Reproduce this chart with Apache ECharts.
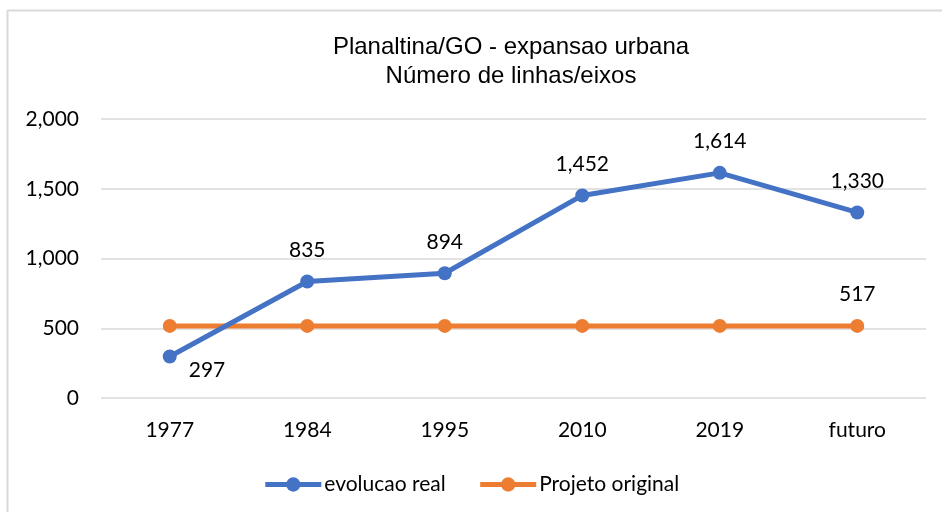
<!DOCTYPE html>
<html>
<head>
<meta charset="utf-8">
<script src="https://cdn.jsdelivr.net/npm/echarts@6/dist/echarts.min.js"></script>
<style>
  html, body { margin: 0; padding: 0; background: #fff; }
  #main { width: 942px; height: 512px; }
</style>
</head>
<body>
<div id="main"></div>
<script>
  const categories = ['1977', '1984', '1995', '2010', '2019', 'futuro']
  const evolucaoReal = [297, 835, 894, 1452, 1614, 1330]
  const projetoOriginal = [517, 517, 517, 517, 517, 517]
  const yTicks = [0, 500, 1000, 1500, 2000]

  const labelFont = 'Lato, "Open Sans", sans-serif'
  const fmt = (v) => v.toLocaleString('en-US')

  const chart = echarts.init(document.getElementById('main'))

  const options = {
    animation: false,
    backgroundColor: '#fff',
    title: {
      text: 'Planaltina/GO - expansao urbana\nNúmero de linhas/eixos',
      left: 506,
      top: 28,
      textAlign: 'center',
      textStyle: {
        fontFamily: '"Liberation Sans", Arial, sans-serif',
        fontSize: 24,
        fontWeight: 'normal',
        color: '#000',
        lineHeight: 29
      }
    },
    graphic: [
      { type: 'line', shape: { x1: 7.5, y1: 10.5, x2: 7.5, y2: 512 }, style: { stroke: '#d9d9d9', lineWidth: 2 } },
      { type: 'line', shape: { x1: 7, y1: 10.5, x2: 942, y2: 10.5 }, style: { stroke: '#d9d9d9', lineWidth: 2 } }
    ],
    color: ['#4472C4', '#ED7D31'],
    legend: {
      bottom: 12,
      left: 'center',
      itemWidth: 56,
      itemHeight: 18,
      itemGap: 32,
      lineStyle: { width: 5 },
      textStyle: { fontFamily: labelFont, fontSize: 21, color: '#000', padding: [0, 0, 0, -2] },
      data: ['evolucao real', 'Projeto original']
    },
    grid: {
      left: 101,
      right: 16,
      top: 119,
      bottom: 114
    },
    xAxis: {
      type: 'category',
      data: categories,
      boundaryGap: true,
      axisLine: { show: false },
      axisTick: { show: false },
      axisLabel: { fontFamily: labelFont, fontSize: 21, color: '#000', margin: 22 }
    },
    yAxis: {
      type: 'value',
      min: yTicks[0],
      max: yTicks[yTicks.length - 1],
      interval: 500,
      axisLine: { show: false },
      axisTick: { show: false },
      splitLine: { lineStyle: { color: '#d9d9d9', width: 1.5 } },
      axisLabel: {
        fontFamily: labelFont,
        fontSize: 21,
        color: '#000',
        margin: 22,
        formatter: (v) => fmt(v)
      }
    },
    series: [
      {
        name: 'evolucao real',
        type: 'line',
        data: evolucaoReal,
        symbol: 'circle',
        symbolSize: 14,
        lineStyle: { width: 5 },
        z: 3,
        label: {
          show: true,
          position: 'top',
          distance: 14,
          fontFamily: labelFont,
          fontSize: 21,
          color: '#000',
          formatter: (p) => fmt(p.value)
        },
        labelLayout: function (params) {
          if (params.dataIndex === 0) {
            return { x: params.rect.x + 26, y: params.rect.y + 10 }
          }
        }
      },
      {
        name: 'Projeto original',
        type: 'line',
        data: projetoOriginal,
        symbol: 'circle',
        symbolSize: 14,
        lineStyle: { width: 5 },
        z: 2,
        label: {
          show: true,
          position: 'top',
          distance: 14,
          fontFamily: labelFont,
          fontSize: 21,
          color: '#000',
          formatter: (p) => p.dataIndex === projetoOriginal.length - 1 ? fmt(p.value) : ''
        }
      }
    ]
  }

  chart.setOption(options)
  window.addEventListener('resize', function () {
    chart.resize()
  })
</script>
</body>
</html>
